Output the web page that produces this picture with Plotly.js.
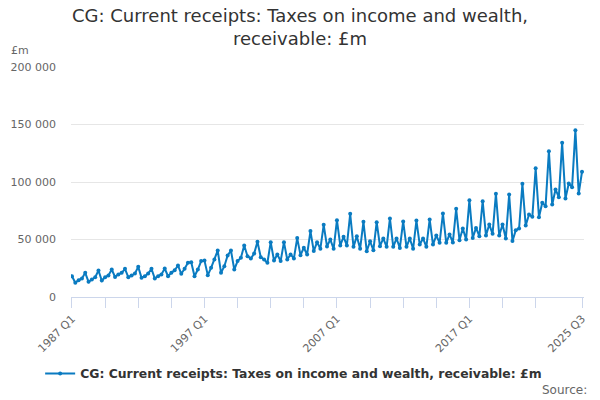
<!DOCTYPE html>
<html>
<head>
<meta charset="utf-8">
<script src="https://cdn.plot.ly/plotly-3.0.1.min.js"></script>
<style>
  html, body { margin: 0; padding: 0; background: #fff; }
  #chart { width: 600px; height: 400px; }
</style>
</head>
<body>
<div id="chart"></div>
<script>
// quarters 1987 Q1 .. 2025 Q3
var quarters = [];
for (var yr = 1987; yr <= 2025; yr++) {
  for (var q = 1; q <= 4; q++) {
    if (yr == 2025 && q > 3) break;
    quarters.push(yr + ' Q' + q);
  }
}

// £m
var receipts = [
  18100, 12400, 14600, 16100,
  21000, 13200, 15200, 17200,
  23000, 14300, 17200, 18700,
  23900, 17500, 19600, 21000,
  24500, 17200, 18700, 20400,
  26200, 16700, 18100, 20400,
  24500, 16100, 18100, 19600,
  24800, 18100, 21000, 23300,
  27400, 20200, 24500, 29700,
  30300, 18100, 23900, 31200,
  31700, 19000, 25400, 32600,
  40400, 21000, 26800, 36100,
  40400, 23900, 31200, 34100,
  44800, 35500, 33500, 37800,
  48000, 34600, 32600, 29700,
  47700, 31700, 37000, 31200,
  47700, 32600, 37000, 33500,
  51200, 36400, 42800, 37000,
  57300, 39900, 47700, 42000,
  62800, 44000, 50000, 41900,
  66800, 44800, 52300, 44800,
  72300, 43600, 52900, 41900,
  65400, 39800, 48500, 40700,
  65100, 44200, 50900, 43600,
  68300, 43600, 50900, 42700,
  65700, 43600, 50900, 41900,
  66500, 45600, 50900, 43600,
  67400, 45600, 53500, 47100,
  72600, 47100, 54400, 47500,
  76700, 49400, 59600, 50000,
  84200, 51400, 60100, 52900,
  83300, 53500, 63000, 54900,
  89700, 53500, 63000, 50900,
  89100, 48600, 58100, 59600,
  98400, 62200, 71700, 69700,
  112000, 69400, 81900, 79000,
  126800, 80400, 93500, 86800,
  134100, 85700, 98700, 95500,
  145100, 90000, 108900
];

var seriesName = 'CG: Current receipts: Taxes on income and wealth, receivable: £m';
var labelledTicks = ['1987 Q1', '1997 Q1', '2007 Q1', '2017 Q1', '2025 Q3'];

// tick every 10 quarters, plus the last quarter
var tickVals = [];
for (var i = 0; i < quarters.length - 10; i += 10) tickVals.push(quarters[i]);
tickVals.push(quarters[quarters.length - 1]);
var tickText = tickVals.map(function (v) {
  return labelledTicks.indexOf(v) >= 0 ? v : '';
});

var trace = {
  x: quarters,
  y: receipts,
  name: seriesName,
  type: 'scatter',
  mode: 'lines+markers',
  line: { color: '#0a7bc1', width: 2 },
  marker: { color: '#0a7bc1', size: 4 }
};

var layout = {
  width: 600,
  height: 400,
  autosize: false,
  margin: { l: 71, r: 16, t: 67, b: 103, autoexpand: false },
  paper_bgcolor: '#fff',
  plot_bgcolor: '#fff',
  font: { family: 'DejaVu Sans, sans-serif', color: '#666', size: 11 },
  separators: '. ',
  showlegend: true,
  title: {
    text: 'CG: Current receipts: Taxes on income and wealth,<br>receivable: £m',
    font: { size: 18, color: '#333' },
    x: 0.5,
    xanchor: 'center',
    y: 0.945,
    yanchor: 'middle'
  },
  xaxis: {
    type: 'category',
    automargin: false,
    range: [-0.3, 154.6],
    tickmode: 'array',
    tickvals: tickVals,
    ticktext: tickText,
    tickangle: -45,
    ticks: 'outside',
    ticklen: 10,
    tickcolor: '#ccd6eb',
    showline: true,
    linecolor: '#ccd6eb',
    linewidth: 1,
    showgrid: false,
    zeroline: false,
    tickfont: { size: 11, color: '#666' }
  },
  yaxis: {
    automargin: false,
    range: [0, 200000],
    tickvals: [0, 50000, 100000, 150000, 200000],
    tickformat: ',d',
    showgrid: true,
    gridcolor: '#e6e6e6',
    zeroline: false,
    showline: false,
    ticks: '',
    ticklabelstandoff: 14,
    tickfont: { size: 11, color: '#666' }
  },
  legend: {
    orientation: 'h',
    x: 0.434,
    xanchor: 'center',
    y: -0.335,
    yanchor: 'middle',
    font: { size: 12.4, color: '#333', weight: 'bold' }
  },
  annotations: [
    {
      text: '£m',
      xref: 'paper', yref: 'paper',
      x: -0.12, y: 1.07,
      xanchor: 'left', yanchor: 'middle',
      showarrow: false,
      font: { size: 11, color: '#666' }
    },
    {
      text: 'Source:',
      xref: 'paper', yref: 'paper',
      x: 1.01, y: -0.404,
      xanchor: 'right', yanchor: 'middle',
      showarrow: false,
      font: { size: 12, color: '#666' }
    }
  ]
};

Plotly.newPlot('chart', [trace], layout, { displayModeBar: false, staticPlot: true });
</script>
</body>
</html>
